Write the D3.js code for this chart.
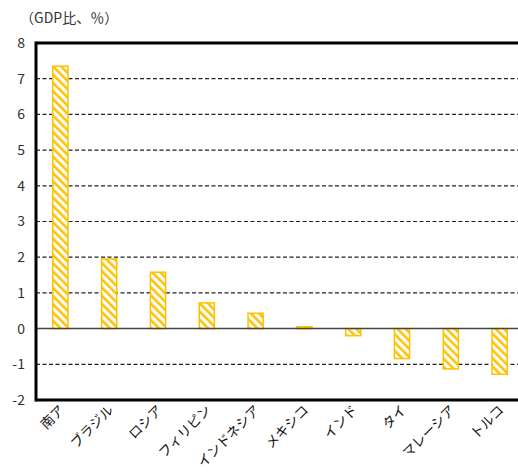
<!DOCTYPE html>
<html>
<head>
<meta charset="utf-8">
<script src="https://cdn.jsdelivr.net/npm/d3@7"></script>
<style>
body { margin: 0; background: #fff; }
text { font-family: "Noto Sans CJK JP", "Noto Sans", sans-serif; }
</style>
</head>
<body>
<div class="canvas"></div>
<script>
// data
const categories = ['南ア', 'ブラジル', 'ロシア', 'フィリピン', 'インドネシア', 'メキシコ', 'インド', 'タイ', 'マレーシア', 'トルコ'];
const values = [7.35, 1.95, 1.58, 0.72, 0.43, 0.05, -0.2, -0.84, -1.13, -1.28];
const yTicks = [-2, -1, 0, 1, 2, 3, 4, 5, 6, 7, 8];

const width = 518, height = 474;
const margin = { top: 43, right: -6, bottom: 74, left: 36 };
const graphWidth = width - margin.left - margin.right;
const graphHeight = height - margin.top - margin.bottom;

const svg = d3.select('.canvas')
    .append('svg')
    .attr('width', width)
    .attr('height', height);

// hatch pattern
const defs = svg.append('defs');
const pat = defs.append('pattern')
    .attr('id', 'hatch')
    .attr('patternUnits', 'userSpaceOnUse')
    .attr('width', 5.8)
    .attr('height', 5.8)
    .attr('patternTransform', 'rotate(-45)');
pat.append('rect').attr('width', 5.8).attr('height', 5.8).attr('fill', '#fff');
pat.append('rect').attr('x', 0).attr('y', 0).attr('width', 2.5).attr('height', 5.8).attr('fill', '#FFC000');

const graph = svg.append('g')
    .attr('transform', `translate(${margin.left}, ${margin.top})`);

// scales
const y = d3.scaleLinear().domain([-2, 8]).range([graphHeight, 0]);
const x = d3.scaleBand().domain(categories).range([0, graphWidth]).paddingInner(0.69).paddingOuter(0.345);

// gridlines
graph.selectAll('line.grid')
    .data(yTicks.filter(d => d !== 0 && d !== -2 && d !== 8))
    .enter().append('line')
    .attr('class', 'grid')
    .attr('x1', 0).attr('x2', graphWidth)
    .attr('y1', d => y(d)).attr('y2', d => y(d))
    .attr('stroke', '#222')
    .attr('stroke-width', 1.2)
    .attr('stroke-dasharray', '4,2.5');

// bars
graph.selectAll('rect.bar')
    .data(values)
    .enter().append('rect')
    .attr('class', 'bar')
    .attr('x', (d, i) => x(categories[i]))
    .attr('y', d => y(Math.max(0, d)))
    .attr('width', x.bandwidth())
    .attr('height', d => Math.abs(y(d) - y(0)))
    .attr('fill', 'url(#hatch)')
    .attr('stroke', '#FFC000')
    .attr('stroke-width', 1.5);

// zero line
graph.append('line')
    .attr('x1', 0).attr('x2', graphWidth)
    .attr('y1', y(0)).attr('y2', y(0))
    .attr('stroke', '#444')
    .attr('stroke-width', 1.5);

// frame
graph.append('line').attr('x1', 0).attr('x2', graphWidth).attr('y1', 0).attr('y2', 0)
    .attr('stroke', '#000').attr('stroke-width', 3);
graph.append('line').attr('x1', 0).attr('x2', graphWidth).attr('y1', graphHeight).attr('y2', graphHeight)
    .attr('stroke', '#000').attr('stroke-width', 3);
graph.append('line').attr('x1', 0).attr('x2', 0).attr('y1', -1.5).attr('y2', graphHeight + 1.5)
    .attr('stroke', '#000').attr('stroke-width', 3);

// y tick labels
graph.selectAll('text.ytick')
    .data(yTicks)
    .enter().append('text')
    .attr('class', 'ytick')
    .attr('x', -11)
    .attr('y', d => y(d))
    .attr('dy', '0.35em')
    .attr('text-anchor', 'end')
    .attr('font-size', 14)
    .attr('fill', '#333')
    .text(d => d < 0 ? '-' + Math.abs(d) : d);

// x labels
graph.selectAll('text.xlab')
    .data(categories)
    .enter().append('text')
    .attr('class', 'xlab')
    .attr('transform', d => `translate(${x(d) + x.bandwidth() / 2 + 5}, ${graphHeight + 11}) rotate(-45)`)
    .attr('text-anchor', 'end')
    .attr('font-size', 13.5)
    .attr('fill', '#111')
    .text(d => d);

// unit label
svg.append('text')
    .attr('x', 20)
    .attr('y', 23)
    .attr('font-size', 14)
    .attr('fill', '#333')
    .text('（GDP比、％）');
</script>
</body>
</html>
